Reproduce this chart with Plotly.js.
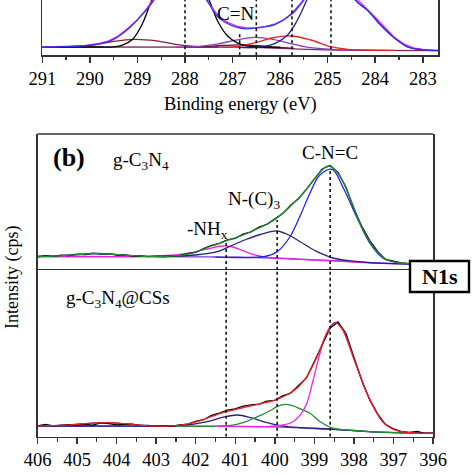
<!DOCTYPE html>
<html><head><meta charset="utf-8">
<script src="https://cdn.plot.ly/plotly-3.0.1.min.js"></script>
<style>html,body{margin:0;padding:0;background:#fff}#plot{width:474px;height:474px}</style>
</head><body><div id="plot"></div>
<script>
// ---------- Panel (a) C1s (bottom slice) ----------
const aBaseE = [291, 287.2, 286.8, 286.4, 286.0, 285.6, 285.2, 284.8, 284.2, 282.6];
const aBaseI = [8.3, 8.2, 8.0, 7.6, 7.0, 6.2, 5.6, 5.2, 4.9, 4.7];
const aFitE = [291.0, 290.6, 290.2, 289.8, 289.5, 289.2, 288.95, 288.7, 288.45, 288.1, 287.8, 287.55, 287.3, 287.0, 286.7, 286.4, 286.1, 285.8, 285.6, 285.4, 285.1, 284.9, 284.65, 284.43, 284.16, 283.88, 283.6, 283.32, 283.0, 282.6];
const aFitI = [8.3, 8.6, 9.3, 11.5, 16, 26, 38, 52, 70, 85, 75, 56, 38, 29.5, 26.5, 28, 31, 40, 50, 62, 85, 95, 85, 56, 45, 30, 17.5, 8.5, 5.6, 4.8];
const aRawE = [291.0, 290.7, 290.4, 290.1, 289.8, 289.6, 289.4, 289.2, 289.0, 288.8, 288.6, 288.3, 287.7, 287.5, 287.3, 287.1, 286.9, 286.7, 286.5, 286.3, 286.1, 285.9, 285.7, 285.5, 285.2, 284.7, 284.4, 284.2, 284.0, 283.8, 283.6, 283.4, 283.2, 283.0, 282.8, 282.6];
const aRawI = [8.4, 8.6, 9.1, 10.0, 11.8, 14.5, 19.5, 27, 35.5, 47, 60, 80, 66, 52, 39.5, 33, 29, 27.5, 27.5, 29, 31.5, 36, 43, 55, 80, 90, 57, 48, 38, 28, 18, 11.5, 7.5, 5.8, 5.0, 4.8];
const aC0E = [291, 290.3, 289.9, 289.5, 289.05, 288.6, 288.2, 287.8, 287.3];
const aC0I = [8.3, 8.8, 10.5, 14, 16, 14.5, 11, 8.8, 8.2];
const aC1E = [291, 289.8, 289.5, 289.3, 289.1, 288.9, 288.7, 288.4, 288.1, 287.8, 287.5, 287.3, 287.1, 286.9, 286.7, 286.4, 286.0];
const aC1I = [8.3, 8.3, 8.5, 10.5, 16, 31, 55, 85, 95, 85, 56, 33, 19, 12.5, 9.5, 8.3, 8.0];
const aC2E = [288.0, 287.4, 286.85, 286.3, 285.7];
const aC2I = [8.2, 9.2, 10.5, 9.0, 7.0];
const aC3E = [288.2, 287.7, 287.3, 286.9, 286.53, 286.15, 285.8, 285.4, 284.9, 284.3];
const aC3I = [8.2, 9, 11.5, 15.5, 18, 16, 12, 8, 6, 5.2];
const aC4E = [287.2, 286.88, 286.45, 286.18, 285.77, 285.35, 284.93, 284.57, 284.2, 283.6];
const aC4I = [7.9, 9, 13.5, 17.3, 19.3, 15.3, 8.6, 6, 5.3, 4.9];
const aC5E = [286.8, 286.4, 286.1, 285.85, 285.65, 285.45, 285.2, 284.93, 284.65, 284.43, 284.16, 283.88, 283.6, 283.32, 283.0, 282.6];
const aC5I = [7.8, 8.5, 12, 20, 34, 54, 85, 100, 85, 56, 45, 30, 17.5, 8.5, 5.5, 4.7];
const aPeakE = [288.0, 286.85, 286.5, 285.75, 284.93];
const aPeakTop = [55.3, 22, 55.3, 55.3, 55.3];

// ---------- Panel (b) N1s, g-C3N4 (upper) ----------
const uBaseE = [406, 403, 402, 401.5, 401, 400.5, 400, 399.5, 399, 398.5, 398, 397.5, 397, 396];
const uBaseI = [13.5, 13.4, 13.2, 13.0, 12.8, 12.5, 12.0, 11.2, 10.2, 9.3, 8.3, 7.2, 6.4, 6.0];
const uFitE = [406, 405.5, 405, 404.6, 404.2, 403.8, 403.3, 402.8, 402.3, 402.0, 401.6, 401.2, 400.8, 400.4, 400.0, 399.6, 399.3, 399.0, 398.8, 398.65, 398.5, 398.3, 398.1, 397.9, 397.7, 397.45, 397.2, 396.9, 396.6, 396.0];
const uFitI = [13.5, 14.2, 15.4, 16.3, 16.0, 14.8, 13.7, 13.7, 15.2, 18, 24, 29.5, 35, 42, 50.5, 64, 76, 91, 100, 104, 101, 90, 72, 52, 35, 20, 11, 7.5, 6.3, 6.0];
const uRawE = [406.0, 405.8, 405.6, 405.4, 405.2, 405.0, 404.8, 404.6, 404.4, 404.2, 404.0, 403.8, 403.6, 403.4, 403.2, 403.0, 402.8, 402.6, 402.4, 402.2, 402.0, 401.8, 401.6, 401.4, 401.2, 401.0, 400.8, 400.6, 400.4, 400.2, 400.0, 399.8, 399.6, 399.4, 399.2, 399.0, 398.8, 398.6, 398.4, 398.2, 398.0, 397.8, 397.6, 397.4, 397.2, 397.0, 396.8, 396.6, 396.4, 396.2, 396.0];
const uRawI = [13.2, 14.3, 13.7, 14.8, 14.5, 15.8, 15.5, 16.8, 16.0, 16.4, 15.0, 15.1, 14.0, 14.1, 13.3, 13.8, 13.5, 14.4, 14.6, 16.3, 17.6, 21.5, 24.6, 26.6, 30.2, 31.7, 35.8, 38.1, 42.9, 45.6, 51.2, 56.4, 64.8, 71.3, 80.9, 90.6, 101, 104.5, 97.6, 82.8, 61.5, 43.6, 29.4, 18.5, 10.6, 8.8, 7.0, 6.4, 5.9, 6.1, 6.0];
const uSatE = [406, 405.4, 404.9, 404.45, 404.0, 403.4, 402.8];
const uSatI = [13.5, 14.2, 15.6, 16.5, 15.3, 13.8, 13.3];
const uNHxE = [406, 404, 403.2, 402.73, 402.22, 401.71, 401.33, 401.06, 400.63, 400.2, 399.6, 399, 398, 397, 396];
const uNHxI = [13.5, 13.4, 13.6, 14.5, 16.7, 21, 24, 23, 16.7, 12.5, 11, 9.8, 8, 6.3, 6];
const uNC3E = [403, 402.4, 401.9, 401.46, 401.06, 400.7, 400.37, 399.94, 399.6, 399.36, 398.93, 398.53, 398.0, 397.5, 396.0];
const uNC3I = [13.4, 14, 15.5, 18.3, 25, 31, 35.5, 39, 34, 28.3, 18.3, 12, 8.8, 7.2, 6];
const uCNCE = [401.5, 400.9, 400.5, 400.2, 399.94, 399.62, 399.35, 399.11, 398.86, 398.55, 398.28, 397.93, 397.6, 397.27, 396.86, 396.0];
const uCNCI = [12.9, 12.5, 12.6, 14, 18.3, 33, 55, 77, 95, 100.7, 83, 53, 27, 12, 7, 6];

// ---------- Panel (b) N1s, g-C3N4@CSs (lower) ----------
const lBaseE = [406, 402, 401, 400, 399.5, 399, 398.5, 398, 397.5, 397, 396.5, 396];
const lBaseI = [10.7, 10.5, 10.3, 9.8, 9.0, 8.2, 7.3, 6.2, 4.8, 4.0, 3.5, 3.4];
const lFitE = [406, 405.5, 405, 404.6, 404.2, 403.8, 403.4, 403.0, 402.6, 402.3, 401.97, 401.56, 401.23, 400.9, 400.63, 400.3, 399.94, 399.62, 399.4, 399.19, 398.93, 398.68, 398.48, 398.3, 398.15, 398.02, 397.85, 397.67, 397.45, 397.27, 397.05, 396.86, 396.5, 396.0];
const lFitI = [10.7, 11.3, 12.4, 13.6, 14.0, 13.0, 11.4, 10.6, 10.8, 12, 15, 20.7, 25, 28, 30.7, 33.5, 37.4, 43.4, 50, 60, 80, 103.4, 114, 108, 95, 80, 62, 43.4, 26, 15, 8.5, 5.5, 3.8, 3.4];
const lRawE = uRawE;
const lRawI = [10.9, 12.4, 10.9, 11.3, 12.1, 11.7, 12.4, 11.6, 13.9, 13.0, 11.8, 12.3, 12.5, 11.0, 11.2, 10.4, 10.8, 10.3, 11.9, 12.6, 15.2, 17.0, 21.4, 23.6, 26.5, 27.8, 30.5, 31.9, 32.5, 35.6, 36.4, 40.8, 43.5, 51.2, 58.8, 75.2, 91.4, 108.8, 114.8, 103.2, 79.5, 56.5, 36.8, 22.9, 12.1, 7.9, 5.0, 4.4, 5.2, 3.4, 3.5];
const lSatE = [406, 405.4, 404.9, 404.3, 403.7, 403.1, 402.5];
const lSatI = [10.7, 11.3, 12.8, 14, 12.6, 10.9, 10.5];
const lNavyE = [406, 404, 403, 402.6, 402.22, 401.71, 401.3, 400.95, 400.6, 400.19, 399.79, 399.3, 398.5, 397.5, 396];
const lNavyI = [10.7, 10.6, 10.7, 11.0, 11.7, 15, 19.5, 21.7, 19, 14, 10.5, 9, 7.4, 4.8, 3.4];
const lGreenE = [402.5, 401.8, 401.4, 401.06, 400.85, 400.63, 400.35, 400.12, 399.92, 399.74, 399.55, 399.36, 399.11, 398.85, 398.53, 398.0, 397.5, 396.0];
const lGreenI = [10.5, 10.4, 10.6, 11.5, 13.5, 16.7, 21.5, 26, 30.5, 32.4, 31, 28, 23.4, 15, 8.5, 6.2, 4.8, 3.4];
const lMagE = [401.5, 400.8, 400.2, 399.79, 399.54, 399.35, 399.19, 399.03, 398.88, 398.73, 398.58, 398.43, 398.28, 398.02, 397.67, 397.27, 396.86, 396.5, 396];
const lMagI = [10.4, 10.1, 10.0, 11.7, 15, 22, 33.4, 56.7, 80, 100, 111, 114.4, 106.5, 80, 43.4, 15, 5.5, 3.8, 3.4];
const bPeakE = [401.23, 399.94, 398.6];
const bPeakTop = [27, 50, 100];

const xTicksA = [291, 290, 289, 288, 287, 286, 285, 284, 283];
const xTicksB = [406, 405, 404, 403, 402, 401, 400, 399, 398, 397, 396];

// ---------- layout helpers ----------
const W = 474;
const PX = v => v / W;
const PY = v => 1 - v / W;
const FONT = 'Liberation Serif';
const AX = '#333';

function line(x, y, color, xa, ya, shape, w) {
  return {x: x, y: y, xaxis: xa, yaxis: ya, type: 'scatter', mode: 'lines',
    line: {color: color, width: w || 1.3, shape: shape || 'spline', smoothing: 1},
    hoverinfo: 'skip', showlegend: false};
}

const traces = [
  line(aBaseE, aBaseI, '#7a2a5a', 'x', 'y'),
  line(aC0E, aC0I, '#8b2020', 'x', 'y'),
  line(aC2E, aC2I, '#5a1a3a', 'x', 'y'),
  line(aC3E, aC3I, '#8a3fc0', 'x', 'y'),
  line(aC4E, aC4I, '#ee2222', 'x', 'y'),
  line(aC1E, aC1I, '#000000', 'x', 'y'),
  line(aC5E, aC5I, '#23237a', 'x', 'y'),
  line(aRawE, aRawI, '#ee22ee', 'x', 'y', 'linear'),
  line(aFitE, aFitI, '#3333ee', 'x', 'y'),

  line(uBaseE, uBaseI, '#7b3fd0', 'x2', 'y2'),
  line(uSatE, uSatI, '#3333cc', 'x2', 'y2'),
  line(uNHxE, uNHxI, '#ee22ee', 'x2', 'y2'),
  line(uNC3E, uNC3I, '#23237a', 'x2', 'y2'),
  line(uCNCE, uCNCI, '#2222ee', 'x2', 'y2'),
  line(uRawE, uRawI, '#000000', 'x2', 'y2', 'linear'),
  line(uFitE, uFitI, '#1f8f2f', 'x2', 'y2'),

  line(lBaseE, lBaseI, '#6a3fd8', 'x2', 'y3'),
  line(lSatE, lSatI, '#3333cc', 'x2', 'y3'),
  line(lNavyE, lNavyI, '#23237a', 'x2', 'y3'),
  line(lGreenE, lGreenI, '#1f8f2f', 'x2', 'y3'),
  line(lMagE, lMagI, '#ee22ee', 'x2', 'y3'),
  line(lRawE, lRawI, '#000000', 'x2', 'y3', 'linear'),
  line(lFitE, lFitI, '#ee2222', 'x2', 'y3'),
];

const shapes = [];
aPeakE.forEach((e, i) => shapes.push({type: 'line', xref: 'x', yref: 'y', x0: e, x1: e, y0: 0, y1: aPeakTop[i],
  line: {color: '#111', width: 1.6, dash: 'dot'}, layer: 'above'}));
bPeakE.forEach((e, i) => {
  shapes.push({type: 'line', xref: 'x2', yref: 'y2', x0: e, x1: e, y0: 0, y1: bPeakTop[i],
    line: {color: '#111', width: 1.6, dash: 'dot'}, layer: 'above'});
  shapes.push({type: 'line', xref: 'x2', yref: 'y3', x0: e, x1: e, y0: 0, y1: 166.7,
    line: {color: '#111', width: 1.6, dash: 'dot'}, layer: 'above'});
});
// top frame line of panel (b)
shapes.push({type: 'line', xref: 'paper', yref: 'paper', x0: PX(37.5), x1: PX(433), y0: PY(134), y1: PY(134),
  line: {color: AX, width: 1.5}, layer: 'above'});
// N1s box
shapes.push({type: 'rect', xref: 'paper', yref: 'paper', x0: PX(410), x1: PX(469), y0: PY(292), y1: PY(261),
  fillcolor: '#fff', line: {color: '#000', width: 2.4}, layer: 'above'});

function ann(text, x, y, size, extra) {
  return Object.assign({text: text, xref: 'paper', yref: 'paper', x: PX(x), y: PY(y),
    xanchor: 'center', yanchor: 'middle', showarrow: false,
    font: {family: FONT, size: size, color: '#000'}}, extra || {});
}

const annotations = [
  ann('C=N', 235, 13, 19),
  ann('Binding energy (eV)', 240, 105, 18.5),
  ann('Binding energy (eV)', 235, 482, 18.5),
  ann('Intensity (cps)', 12, 278, 18, {textangle: -90}),
  ann('<b>(b)</b>', 69, 158, 26),
  ann('g-C<sub>3</sub>N<sub>4</sub>', 141, 161, 19),
  ann('C-N=C', 330, 153, 19),
  ann('N-(C)<sub>3</sub>', 254, 200, 19),
  ann('-NH<sub>x</sub>', 207, 230, 19),
  ann('g-C<sub>3</sub>N<sub>4</sub>@CSs', 118, 299, 19),
  ann('<b>N1s</b>', 439.5, 276.5, 22),
];

const xCommon = {
  showline: true, linecolor: AX, linewidth: 1.5, ticks: 'outside', ticklen: 6, tickwidth: 1.5, tickcolor: AX,
  tickmode: 'array', showgrid: false, zeroline: false,
  tickfont: {family: FONT, size: 18.5, color: '#000'},
  minor: {dtick: 0.5, tick0: 0, ticks: 'outside', ticklen: 3.5, tickwidth: 1.2, tickcolor: AX, showgrid: false}
};
const yCommon = {showline: true, mirror: true, linecolor: AX, linewidth: 1.5, ticks: '', showticklabels: false,
  showgrid: false, zeroline: false, fixedrange: true};

const layout = {
  width: W, height: W, margin: {l: 0, r: 0, t: 0, b: 0},
  font: {family: FONT, color: '#000'},
  paper_bgcolor: '#fff', plot_bgcolor: 'rgba(0,0,0,0)', showlegend: false,
  xaxis: Object.assign({}, xCommon, {domain: [PX(42.3), PX(438)], range: [291, 282.68], anchor: 'y',
    tickvals: xTicksA, ticktext: xTicksA.map(String)}),
  yaxis: Object.assign({}, yCommon, {domain: [PY(55.3), 1], range: [0, 55.3], anchor: 'x'}),
  xaxis2: Object.assign({}, xCommon, {domain: [PX(37.5), PX(433)], range: [406, 396], anchor: 'y3', mirror: true,
    tickvals: xTicksB, ticktext: xTicksB.map(String)}),
  yaxis2: Object.assign({}, yCommon, {domain: [PY(270), PY(134)], range: [0, 136], anchor: 'x2'}),
  yaxis3: Object.assign({}, yCommon, {domain: [PY(436.7), PY(270)], range: [0, 166.7], anchor: 'x2'}),
  shapes: shapes, annotations: annotations
};

Plotly.newPlot('plot', traces, layout, {staticPlot: true, displayModeBar: false});
</script></body></html>
